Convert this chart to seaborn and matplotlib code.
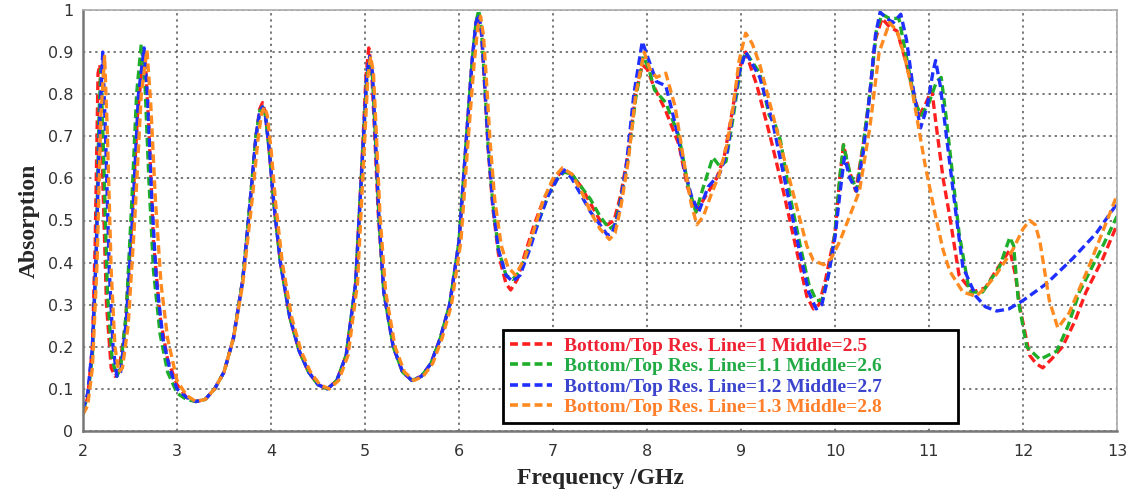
import numpy as np
import pandas as pd
import matplotlib
matplotlib.use("Agg")
import matplotlib.pyplot as plt
import seaborn as sns

# ---------------- data ----------------
labels = [
    "Bottom/Top Res. Line=1 Middle=2.5",
    "Bottom/Top Res. Line=1.1 Middle=2.6",
    "Bottom/Top Res. Line=1.2 Middle=2.7",
    "Bottom/Top Res. Line=1.3 Middle=2.8",
]
line_colors = ["#ff1f1f", "#1fae2a", "#1f2fff", "#ff8a1f"]
text_colors = ["#ee2233", "#22aa44", "#3a44cc", "#ff7f2a"]

red_f = [2.0, 2.05, 2.1, 2.13, 2.16, 2.18, 2.21, 2.25, 2.3, 2.34, 2.38, 2.45, 2.52, 2.58, 2.63, 2.66, 2.7, 2.75,
         2.82, 2.9, 3.0, 3.1, 3.2, 3.3, 3.4, 3.5, 3.6, 3.7, 3.78, 3.84, 3.88, 3.91, 3.94, 3.98, 4.03, 4.1, 4.2,
         4.3, 4.4, 4.5, 4.6, 4.7, 4.8, 4.9, 4.97, 5.01, 5.04, 5.07, 5.1, 5.14, 5.2, 5.3, 5.4, 5.5, 5.6, 5.7, 5.8,
         5.9, 6.0, 6.08, 6.14, 6.18, 6.21, 6.24, 6.27, 6.31, 6.36, 6.42, 6.5, 6.55, 6.62, 6.7, 6.8, 6.9, 7.0, 7.1,
         7.2, 7.3, 7.4, 7.5, 7.58, 7.65, 7.72, 7.8, 7.88, 7.95, 8.0, 8.07, 8.2, 8.34, 8.43, 8.52, 8.63, 8.74,
         8.82, 8.9, 8.98, 9.05, 9.17, 9.31, 9.45, 9.53, 9.63, 9.7, 9.77, 9.83, 9.9, 10.0, 10.05, 10.09, 10.15,
         10.22, 10.3, 10.37, 10.43, 10.5, 10.58, 10.66, 10.75, 10.85, 10.9, 10.97, 11.03, 11.08, 11.15, 11.22,
         11.32, 11.46, 11.6, 11.71, 11.8, 11.86, 11.92, 11.97, 12.07, 12.14, 12.21, 12.3, 12.42, 12.55, 12.67,
         12.85, 13.0]
red_a = [0.04, 0.08, 0.2, 0.45, 0.85, 0.87, 0.6, 0.3, 0.15, 0.13, 0.14, 0.25, 0.5, 0.75, 0.87, 0.89, 0.72, 0.45,
         0.27, 0.17, 0.11, 0.08, 0.07, 0.075, 0.1, 0.14, 0.22, 0.36, 0.55, 0.70, 0.765, 0.78, 0.755, 0.67, 0.54,
         0.4, 0.27, 0.19, 0.14, 0.11, 0.1, 0.12, 0.18, 0.35, 0.65, 0.84, 0.91, 0.86, 0.72, 0.52, 0.33, 0.2, 0.14,
         0.12, 0.13, 0.16, 0.22, 0.3, 0.45, 0.7, 0.88, 0.97, 0.99, 0.94, 0.83, 0.67, 0.53, 0.42, 0.35, 0.335,
         0.36, 0.42, 0.49, 0.55, 0.59, 0.62, 0.61, 0.58, 0.54, 0.5, 0.49, 0.5, 0.56, 0.66, 0.8, 0.87, 0.86, 0.82,
         0.76, 0.68, 0.58, 0.52, 0.56, 0.6, 0.65, 0.75, 0.86, 0.9, 0.82, 0.7, 0.57, 0.49, 0.39, 0.32, 0.29, 0.3,
         0.36, 0.47, 0.6, 0.68, 0.62, 0.57, 0.68, 0.8, 0.93, 0.98, 0.96, 0.95, 0.88, 0.79, 0.75, 0.78, 0.81, 0.72,
         0.6, 0.51, 0.37, 0.33, 0.34, 0.38, 0.41, 0.43, 0.37, 0.29, 0.18, 0.16, 0.15, 0.17, 0.2, 0.26, 0.33,
         0.41, 0.49]

green_f = [2.0, 2.05, 2.1, 2.14, 2.17, 2.19, 2.22, 2.26, 2.31, 2.36, 2.4, 2.46, 2.52, 2.57, 2.62, 2.66, 2.7, 2.75,
           2.82, 2.9, 3.0, 3.1, 3.2, 3.3, 3.4, 3.5, 3.6, 3.7, 3.78, 3.84, 3.88, 3.91, 3.94, 3.98, 4.03, 4.1, 4.2,
           4.3, 4.4, 4.5, 4.6, 4.7, 4.8, 4.9, 4.98, 5.02, 5.05, 5.08, 5.11, 5.15, 5.2, 5.3, 5.4, 5.5, 5.6, 5.7, 5.8,
           5.9, 6.0, 6.08, 6.14, 6.18, 6.21, 6.24, 6.27, 6.31, 6.36, 6.42, 6.5, 6.57, 6.65, 6.75, 6.85, 6.95, 7.05,
           7.12, 7.2, 7.3, 7.4, 7.5, 7.6, 7.66, 7.72, 7.8, 7.88, 7.96, 8.02, 8.08, 8.2, 8.34, 8.44, 8.52, 8.6, 8.7,
           8.77, 8.84, 8.92, 9.0, 9.05, 9.2, 9.3, 9.36, 9.42, 9.52, 9.63, 9.72, 9.8, 9.86, 9.93, 10.0, 10.05,
           10.09, 10.15, 10.23, 10.3, 10.37, 10.44, 10.5, 10.58, 10.68, 10.75, 10.85, 10.92, 11.0, 11.08, 11.13,
           11.18, 11.22, 11.32, 11.43, 11.57, 11.75, 11.86, 11.9, 11.95, 12.04, 12.18, 12.36, 12.48, 12.6, 12.85,
           13.0]
green_a = [0.05, 0.08, 0.18, 0.42, 0.75, 0.86, 0.65, 0.33, 0.17, 0.13, 0.15, 0.28, 0.55, 0.8, 0.92, 0.82, 0.6,
           0.38, 0.23, 0.14, 0.09, 0.075, 0.07, 0.075, 0.1, 0.14, 0.22, 0.36, 0.55, 0.70, 0.76, 0.77, 0.75, 0.67,
           0.54, 0.4, 0.27, 0.19, 0.14, 0.11, 0.1, 0.12, 0.18, 0.35, 0.68, 0.84, 0.88, 0.84, 0.7, 0.5, 0.33, 0.2,
           0.14, 0.12, 0.13, 0.16, 0.22, 0.3, 0.45, 0.7, 0.88, 0.97, 1.0, 0.95, 0.84, 0.68, 0.54, 0.43, 0.37, 0.36,
           0.38, 0.44, 0.5, 0.56, 0.6, 0.615, 0.61, 0.58, 0.55, 0.51, 0.48, 0.49, 0.55, 0.65, 0.79, 0.89, 0.86,
           0.81, 0.78, 0.7, 0.58, 0.52, 0.58, 0.65, 0.63, 0.64, 0.75, 0.87, 0.9, 0.85, 0.75, 0.73, 0.69, 0.56,
           0.44, 0.35, 0.31, 0.31, 0.37, 0.47, 0.6, 0.68, 0.62, 0.57, 0.68, 0.8, 0.95, 0.99, 0.98, 0.98, 0.9, 0.78,
           0.75, 0.78, 0.83, 0.84, 0.75, 0.67, 0.47, 0.33, 0.33, 0.39, 0.46, 0.44, 0.31, 0.2, 0.17, 0.19, 0.25,
           0.33, 0.44, 0.51]

blue_f = [2.0, 2.05, 2.1, 2.14, 2.18, 2.21, 2.24, 2.28, 2.32, 2.36, 2.4, 2.46, 2.53, 2.59, 2.65, 2.69, 2.73, 2.78,
          2.85, 2.92, 3.0, 3.1, 3.2, 3.3, 3.4, 3.5, 3.6, 3.7, 3.78, 3.84, 3.88, 3.91, 3.94, 3.98, 4.03, 4.1, 4.2,
          4.3, 4.4, 4.5, 4.6, 4.7, 4.8, 4.9, 4.98, 5.02, 5.05, 5.08, 5.11, 5.15, 5.2, 5.3, 5.4, 5.5, 5.6, 5.7, 5.8,
          5.9, 6.0, 6.08, 6.14, 6.18, 6.21, 6.24, 6.27, 6.31, 6.36, 6.42, 6.5, 6.57, 6.65, 6.75, 6.85, 6.95, 7.05,
          7.12, 7.2, 7.3, 7.4, 7.5, 7.58, 7.63, 7.7, 7.78, 7.86, 7.95, 8.02, 8.1, 8.2, 8.3, 8.4, 8.47, 8.55, 8.65,
          8.77, 8.85, 8.91, 8.98, 9.05, 9.2, 9.34, 9.49, 9.63, 9.72, 9.8, 9.86, 9.93, 10.0, 10.05, 10.1, 10.16,
          10.23, 10.3, 10.37, 10.43, 10.48, 10.55, 10.62, 10.7, 10.76, 10.84, 10.91, 10.98, 11.04, 11.07, 11.12,
          11.18, 11.29, 11.36, 11.5, 11.6, 11.72, 11.85, 12.0, 12.25, 12.53, 12.78, 13.0]
blue_a = [0.05, 0.09, 0.2, 0.42, 0.75, 0.9, 0.7, 0.38, 0.2, 0.13, 0.14, 0.26, 0.52, 0.8, 0.91, 0.78, 0.56, 0.36,
          0.22, 0.15, 0.1, 0.08, 0.07, 0.075, 0.1, 0.14, 0.22, 0.36, 0.55, 0.70, 0.76, 0.77, 0.75, 0.67, 0.54, 0.4,
          0.27, 0.19, 0.14, 0.11, 0.1, 0.12, 0.18, 0.35, 0.68, 0.85, 0.89, 0.85, 0.7, 0.5, 0.33, 0.2, 0.14, 0.12,
          0.13, 0.16, 0.22, 0.3, 0.45, 0.7, 0.88, 0.97, 0.99, 0.95, 0.84, 0.68, 0.54, 0.43, 0.37, 0.355, 0.37,
          0.43, 0.5, 0.56, 0.6, 0.62, 0.6, 0.56, 0.52, 0.49, 0.465, 0.47, 0.52, 0.63, 0.8, 0.925, 0.88, 0.83,
          0.82, 0.73, 0.62, 0.56, 0.52, 0.58, 0.61, 0.66, 0.75, 0.85, 0.9, 0.84, 0.73, 0.57, 0.42, 0.33, 0.29,
          0.3, 0.37, 0.46, 0.56, 0.65, 0.6, 0.57, 0.66, 0.8, 0.94, 0.995, 0.98, 0.97, 0.99, 0.93, 0.8, 0.72, 0.77,
          0.85, 0.88, 0.82, 0.71, 0.51, 0.39, 0.32, 0.295, 0.285, 0.29, 0.31, 0.35, 0.41, 0.47, 0.54]

orange_f = [2.0, 2.05, 2.1, 2.15, 2.19, 2.23, 2.26, 2.3, 2.34, 2.38, 2.42, 2.48, 2.55, 2.62, 2.68, 2.72, 2.77,
            2.83, 2.9, 3.0, 3.1, 3.2, 3.3, 3.4, 3.5, 3.6, 3.7, 3.8, 3.86, 3.9, 3.93, 3.96, 4.0, 4.05, 4.12, 4.22,
            4.32, 4.42, 4.52, 4.62, 4.72, 4.82, 4.92, 4.99, 5.03, 5.06, 5.09, 5.12, 5.16, 5.22, 5.32, 5.42, 5.52,
            5.62, 5.72, 5.82, 5.92, 6.02, 6.1, 6.16, 6.2, 6.23, 6.26, 6.29, 6.33, 6.38, 6.45, 6.52, 6.6, 6.7, 6.8,
            6.9, 7.0, 7.1, 7.2, 7.3, 7.4, 7.5, 7.6, 7.66, 7.72, 7.8, 7.88, 7.97, 8.03, 8.1, 8.2, 8.3, 8.4, 8.47,
            8.53, 8.6, 8.68, 8.77, 8.85, 8.91, 8.98, 9.05, 9.12, 9.2, 9.34, 9.49, 9.63, 9.7, 9.77, 9.88, 9.96,
            10.05, 10.12, 10.26, 10.37, 10.47, 10.58, 10.66, 10.74, 10.82, 10.96, 11.07, 11.15, 11.22, 11.36, 11.5,
            11.6, 11.71, 11.89, 12.0, 12.07, 12.13, 12.18, 12.28, 12.37, 12.49, 12.7, 13.0]
orange_a = [0.04, 0.06, 0.15, 0.4, 0.75, 0.89, 0.7, 0.38, 0.2, 0.14, 0.15, 0.25, 0.5, 0.8, 0.905, 0.78, 0.55, 0.35,
            0.22, 0.12, 0.085, 0.07, 0.075, 0.1, 0.14, 0.22, 0.35, 0.55, 0.69, 0.755, 0.77, 0.75, 0.67, 0.54, 0.4,
            0.27, 0.19, 0.14, 0.11, 0.1, 0.12, 0.18, 0.35, 0.66, 0.84, 0.89, 0.85, 0.71, 0.51, 0.33, 0.2, 0.14,
            0.12, 0.13, 0.16, 0.22, 0.3, 0.45, 0.7, 0.87, 0.96, 0.985, 0.94, 0.84, 0.69, 0.55, 0.44, 0.39, 0.37,
            0.41, 0.48, 0.55, 0.6, 0.625, 0.61, 0.57, 0.52, 0.48, 0.455, 0.47, 0.53, 0.64, 0.8, 0.9, 0.86, 0.84,
            0.85, 0.77, 0.63, 0.54, 0.49, 0.51, 0.56, 0.61, 0.68, 0.76, 0.88, 0.945, 0.92, 0.87, 0.75, 0.62, 0.5,
            0.44, 0.405, 0.395, 0.41, 0.45, 0.49, 0.57, 0.72, 0.9, 0.97, 0.95, 0.89, 0.81, 0.63, 0.51, 0.43, 0.38,
            0.33, 0.32, 0.34, 0.37, 0.43, 0.48, 0.5, 0.49, 0.45, 0.31, 0.245, 0.28, 0.39, 0.56]

x_ticks = [2, 3, 4, 5, 6, 7, 8, 9, 10, 11, 12, 13]
y_ticks = [0, 0.1, 0.2, 0.3, 0.4, 0.5, 0.6, 0.7, 0.8, 0.9, 1]
y_tick_labels = ["0", "0.1", "0.2", "0.3", "0.4", "0.5", "0.6", "0.7", "0.8", "0.9", "1"]
x_label = "Frequency /GHz"
y_label = "Absorption"

# ---------------- figure ----------------
sns.set_style("white")
plt.rcParams["font.family"] = ["DejaVu Sans"]

series_f = [red_f, green_f, blue_f, orange_f]
series_a = [red_a, green_a, blue_a, orange_a]
frames = []
for lab, f, a in zip(labels, series_f, series_a):
    frames.append(pd.DataFrame({"Frequency": f, "Absorption": a, "Series": lab}))
df = pd.concat(frames, ignore_index=True)

fig = plt.figure(figsize=(11.31, 4.95), dpi=100)
ax = fig.add_axes([83 / 1131, 1 - 431 / 495, (1117 - 83) / 1131, (431 - 10) / 495])

for lab, col in zip(labels, line_colors):
    sub = df[df["Series"] == lab]
    sns.lineplot(data=sub, x="Frequency", y="Absorption", ax=ax, color=col,
                 linewidth=2.4, label=lab, estimator=None, sort=False)

for ln in ax.get_lines():
    ln.set_dashes((2.6, 1.3))
    ln.set_solid_joinstyle("round")
    ln.set_dash_joinstyle("round")

ax.set_xlim(2, 13)
ax.set_ylim(0, 1)
ax.set_xticks(x_ticks)
ax.set_xticklabels([str(t) for t in x_ticks])
ax.set_yticks(y_ticks)
ax.set_yticklabels(y_tick_labels)
ax.grid(True, linestyle=(0, (1.5, 2.5)), color="#555555", linewidth=1.1)
ax.set_axisbelow(True)

ax.tick_params(axis="both", direction="inout", length=7, width=1.2, color="#555555",
               labelsize=11.5, labelcolor="#333333")
ax.tick_params(axis="x", pad=6)

for side, sp in ax.spines.items():
    sp.set_visible(True)
    sp.set_color("#777777" if side in ("bottom", "left") else "#aaaaaa")
    sp.set_linewidth(1.8 if side in ("bottom", "left") else 1.2)

ax.set_xlabel(x_label, fontsize=17, fontweight="bold", family="Liberation Serif", labelpad=6)
ax.set_ylabel(y_label, fontsize=17, fontweight="bold", family="Liberation Serif", labelpad=6)

leg = ax.legend(loc="lower left", bbox_to_anchor=(0.406, 0.019, 0.44, 0.249), mode="expand",
                fancybox=False, framealpha=1, edgecolor="black", handlelength=2.2,
                handletextpad=0.6, labelspacing=0.15, borderpad=0.35, borderaxespad=0,
                prop={"family": "Liberation Serif", "weight": "bold", "size": 14})
leg.get_frame().set_linewidth(2.0)
for txt, c in zip(leg.get_texts(), text_colors):
    txt.set_color(c)
for h in leg.get_lines():
    h.set_dashes((2.2, 1.2))
    h.set_linewidth(2.6)

fig.savefig("out.png", dpi=100)
